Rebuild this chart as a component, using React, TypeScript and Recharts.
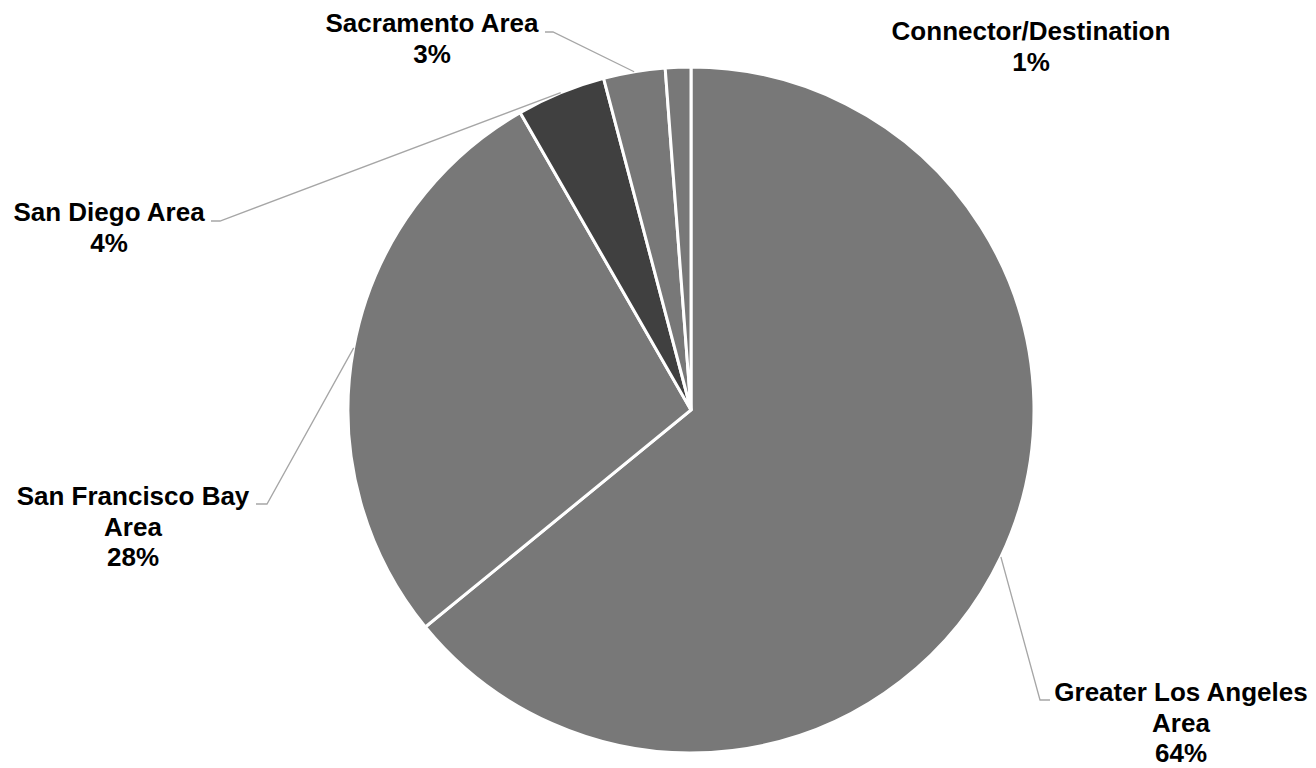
import { PieChart, Pie, Cell } from "recharts";

const regions = [
  "Greater Los Angeles Area",
  "San Francisco Bay Area",
  "San Diego Area",
  "Sacramento Area",
  "Connector/Destination",
];
const shares = [64.1, 27.6, 4.2, 2.9, 1.2];
const COLORS = ["#787878", "#787878", "#404040", "#787878", "#787878"];

const data = regions.map((name, i) => ({ name, value: shares[i] }));

// where each label sits (elbow of leader line, end of line, text centre, first baseline)
const LABELS = [
  { elbow: [1040, 700], end: 1050, tx: 1181, ty: 701 },
  { elbow: [267, 504], end: 256, tx: 133, ty: 505 },
  { elbow: [220, 221], end: 211, tx: 109, ty: 221 },
  { elbow: [553, 32], end: 545, tx: 432, ty: 32 },
  { elbow: null, end: 0, tx: 1031, ty: 40 },
];

const RAD = Math.PI / 180;
const LINE_H = 30.5;

function wrap(text: string, max: number) {
  const words = text.split(" ");
  const lines: string[] = [];
  let cur = "";
  words.forEach((w) => {
    const next = cur ? cur + " " + w : w;
    if (next.length > max && cur) {
      lines.push(cur);
      cur = w;
    } else {
      cur = next;
    }
  });
  if (cur) lines.push(cur);
  return lines;
}

const renderLabel = (props: any) => {
  const { cx, cy, midAngle, outerRadius, percent, index, name } = props;
  const lay = LABELS[index];
  const sx = cx + outerRadius * Math.cos(-midAngle * RAD);
  const sy = cy + outerRadius * Math.sin(-midAngle * RAD);
  const lines = [...wrap(name, 19), `${Math.round(percent * 100)}%`];
  return (
    <g key={`lbl-${index}`}>
      {lay.elbow && (
        <polyline
          points={`${sx},${sy} ${lay.elbow[0]},${lay.elbow[1]} ${lay.end},${lay.elbow[1]}`}
          fill="none"
          stroke="#a6a6a6"
          strokeWidth={1.3}
        />
      )}
      <text
        x={lay.tx}
        y={lay.ty}
        textAnchor="middle"
        fill="#000"
        style={{
          fontFamily: "'Liberation Sans', Arial, sans-serif",
          fontWeight: 700,
          fontSize: 26,
        }}
      >
        {lines.map((l, i) => (
          <tspan key={i} x={lay.tx} y={lay.ty + i * LINE_H}>
            {l}
          </tspan>
        ))}
      </text>
    </g>
  );
};

export default function App() {
  return (
    <div style={{ position: "absolute", left: 0, top: 0, background: "#fff" }}>
      <PieChart
        width={1316}
        height={768}
        margin={{ top: 0, right: 0, bottom: 0, left: 0 }}
      >
        <Pie
          data={data}
          dataKey="value"
          nameKey="name"
          cx={691}
          cy={410}
          outerRadius={343}
          startAngle={90}
          endAngle={-270}
          stroke="#ffffff"
          strokeWidth={3}
          label={renderLabel}
          labelLine={false}
          isAnimationActive={false}
        >
          {data.map((d, i) => (
            <Cell key={d.name} fill={COLORS[i]} />
          ))}
        </Pie>
      </PieChart>
    </div>
  );
}
